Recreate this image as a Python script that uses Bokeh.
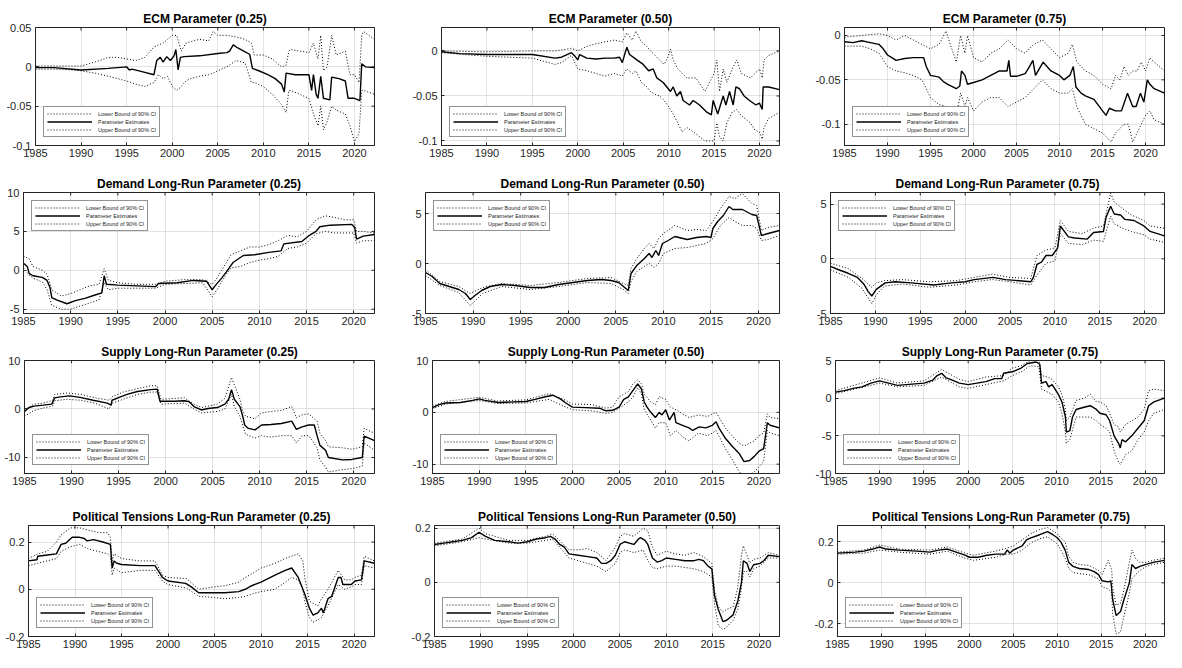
import sys
from bokeh.plotting import figure
from bokeh.models import (ColumnDataSource, Range1d, FixedTicker,
                          Legend, LegendItem, PrintfTickFormatter)
from bokeh.layouts import column, row
from bokeh.core.properties import value
from bokeh.embed import file_html
from bokeh.resources import INLINE

# ---------------------------------------------------------------- data
x_ticks = [1985, 1990, 1995, 2000, 2005, 2010, 2015, 2020]
legend_labels = ["Lower Bound of 90% CI", "Parameter Estimates", "Upper Bound of 90% CI"]

# ECM (0.25)
ecm25_est_year = [1985, 1987, 1990, 1993, 1995, 1995.3, 1995.6, 1997, 1998, 1998.3, 1998.7, 1999.0, 1999.4, 1999.8, 2000.2, 2000.4, 2000.65, 2000.9, 2001.3, 2003, 2005, 2006, 2006.3, 2006.7, 2007.2, 2008, 2008.5, 2008.8, 2009.5, 2010.5, 2011.3, 2012.0, 2012.3, 2012.5, 2013.5, 2015.0, 2015.3, 2015.5, 2015.8, 2016.0, 2016.3, 2016.6, 2017.3, 2017.5, 2018.3, 2019.0, 2019.3, 2020.0, 2020.6, 2020.8, 2021.2, 2022.2]
ecm25_est = [-0.001, -0.001, -0.004, -0.002, 0.000, -0.004, -0.003, -0.007, -0.010, 0.008, 0.012, 0.006, 0.013, 0.008, 0.014, 0.022, -0.004, 0.012, 0.013, 0.014, 0.017, 0.018, 0.020, 0.028, 0.024, 0.019, 0.016, -0.002, -0.005, -0.010, -0.015, -0.022, -0.032, -0.008, -0.010, -0.010, -0.030, -0.010, -0.035, -0.040, -0.012, -0.040, -0.042, -0.013, -0.015, -0.018, -0.040, -0.040, -0.043, 0.004, 0.000, -0.001]
ecm25_ci_year = [1985, 1988, 1990, 1991.5, 1993, 1994, 1995, 1996, 1997, 1998, 1998.5, 1999, 1999.5, 2000, 2000.5, 2001, 2001.5, 2002, 2003, 2004, 2004.5, 2005, 2006, 2007, 2008, 2008.7, 2009, 2010, 2011, 2012, 2012.5, 2012.8, 2013, 2014, 2015, 2015.5, 2016, 2016.3, 2016.6, 2017, 2017.5, 2018, 2019, 2019.5, 2020, 2020.5, 2020.8, 2021, 2022.2]
ecm25_hi = [0.001, 0.001, 0.001, 0.006, 0.012, 0.012, 0.010, 0.008, 0.012, 0.025, 0.028, 0.030, 0.035, 0.040, 0.040, 0.020, 0.030, 0.032, 0.035, 0.033, 0.045, 0.040, 0.040, 0.038, 0.035, 0.030, 0.015, 0.015, 0.010, 0.000, 0.002, 0.020, 0.022, 0.020, 0.018, 0.030, 0.010, 0.040, -0.005, 0.000, 0.040, 0.015, 0.020, -0.010, -0.010, -0.020, 0.040, 0.045, 0.035]
ecm25_lo = [-0.003, -0.003, -0.005, -0.008, -0.012, -0.015, -0.018, -0.022, -0.025, -0.020, -0.010, -0.015, -0.012, -0.025, -0.030, -0.025, -0.018, -0.015, -0.012, -0.010, -0.008, -0.005, 0.000, 0.008, 0.005, -0.020, -0.020, -0.025, -0.035, -0.048, -0.058, -0.030, -0.030, -0.035, -0.040, -0.060, -0.075, -0.050, -0.080, -0.070, -0.050, -0.055, -0.060, -0.075, -0.095, -0.085, -0.030, -0.030, -0.035]

# ECM (0.50)
ecm50_est_year = [1985, 1987, 1990, 1995, 1997.5, 1998.2, 1999.3, 1999.7, 2000.0, 2000.2, 2001, 2002, 2003, 2004, 2004.6, 2004.9, 2005.1, 2005.4, 2005.7, 2006.5, 2007.2, 2007.8, 2008.3, 2008.7, 2009.4, 2010.2, 2010.5, 2010.9, 2011.3, 2011.6, 2012.3, 2012.7, 2013.4, 2014.2, 2014.7, 2014.9, 2015.4, 2016.0, 2016.3, 2016.7, 2017.1, 2017.4, 2017.8, 2018.3, 2018.9, 2019.6, 2020.0, 2020.3, 2020.4, 2021.0, 2022.2]
ecm50_est = [-0.001, -0.003, -0.004, -0.004, -0.008, -0.007, -0.002, -0.006, -0.010, -0.004, -0.008, -0.009, -0.008, -0.008, -0.007, -0.013, -0.006, 0.004, -0.004, -0.010, -0.015, -0.022, -0.020, -0.030, -0.035, -0.045, -0.040, -0.050, -0.045, -0.055, -0.060, -0.055, -0.060, -0.068, -0.071, -0.055, -0.070, -0.050, -0.060, -0.045, -0.060, -0.040, -0.042, -0.050, -0.055, -0.060, -0.058, -0.065, -0.040, -0.040, -0.043]
ecm50_ci_year = [1985, 1990, 1995, 1997.5, 1998.2, 1999.3, 2000, 2001, 2002, 2003, 2004, 2004.9, 2005.4, 2006, 2006.4, 2007, 2007.6, 2008, 2008.5, 2009, 2009.5, 2010.0, 2010.2, 2010.5, 2011, 2011.5, 2012, 2013, 2014, 2014.5, 2015, 2015.3, 2015.6, 2016, 2016.4, 2017, 2017.5, 2018, 2019, 2019.5, 2020, 2020.3, 2020.5, 2021, 2022.2]
ecm50_hi = [0.000, -0.001, 0.000, 0.000, 0.001, 0.003, 0.000, 0.005, 0.008, 0.010, 0.012, 0.010, 0.020, 0.012, 0.022, 0.010, 0.005, 0.000, -0.005, -0.010, -0.015, -0.005, 0.002, -0.010, -0.020, -0.025, -0.030, -0.030, -0.045, -0.035, -0.025, -0.010, -0.045, -0.020, -0.035, -0.020, -0.010, -0.025, -0.030, -0.025, -0.020, -0.030, -0.010, -0.005, 0.000]
ecm50_lo = [-0.002, -0.006, -0.008, -0.015, -0.013, -0.005, -0.020, -0.022, -0.025, -0.028, -0.025, -0.028, -0.020, -0.025, -0.022, -0.035, -0.040, -0.045, -0.048, -0.050, -0.055, -0.062, -0.065, -0.070, -0.080, -0.090, -0.085, -0.092, -0.100, -0.100, -0.100, -0.080, -0.095, -0.100, -0.080, -0.068, -0.065, -0.072, -0.080, -0.088, -0.090, -0.098, -0.085, -0.075, -0.068]

# ECM (0.75)
ecm75_est_year = [1985, 1986, 1987, 1988, 1989, 1989.5, 1990, 1990.5, 1991, 1992, 1993, 1994.2, 1994.5, 1995, 1996, 1996.5, 1997, 1998, 1998.4, 1998.6, 1999, 1999.3, 2000, 2001, 2002, 2003, 2003.9, 2004.1, 2004.3, 2005, 2006, 2006.5, 2006.9, 2007.2, 2008.1, 2009, 2010, 2010.5, 2011.2, 2011.6, 2011.9, 2012.5, 2013, 2014, 2015, 2015.4, 2015.8, 2016.5, 2017.2, 2017.9, 2018.5, 2018.9, 2019.4, 2019.8, 2020.2, 2020.5, 2021, 2022.2]
ecm75_est = [-0.007, -0.008, -0.006, -0.008, -0.010, -0.015, -0.022, -0.025, -0.028, -0.026, -0.025, -0.025, -0.035, -0.045, -0.047, -0.052, -0.055, -0.060, -0.057, -0.040, -0.045, -0.055, -0.053, -0.050, -0.045, -0.040, -0.040, -0.028, -0.046, -0.046, -0.043, -0.035, -0.028, -0.045, -0.030, -0.040, -0.045, -0.050, -0.045, -0.035, -0.058, -0.065, -0.068, -0.072, -0.085, -0.090, -0.082, -0.085, -0.085, -0.065, -0.080, -0.080, -0.065, -0.075, -0.050, -0.055, -0.060, -0.065]
ecm75_ci_year = [1985, 1986, 1987, 1988, 1989, 1990, 1991, 1992, 1993, 1994, 1995, 1996, 1996.8, 1997.3, 1998, 1998.5, 1999, 1999.3, 2000, 2001, 2002, 2003, 2004, 2005, 2006, 2007, 2008, 2009, 2010, 2011, 2011.5, 2012, 2013, 2014, 2015, 2016, 2016.5, 2017, 2017.5, 2018, 2018.5, 2019, 2019.5, 2020, 2020.5, 2021, 2022.2]
ecm75_hi = [-0.002, -0.001, 0.000, 0.001, 0.002, 0.000, -0.005, 0.000, -0.005, -0.010, -0.015, -0.010, 0.005, -0.010, -0.030, 0.000, -0.020, 0.000, -0.025, -0.030, -0.020, -0.015, -0.005, -0.015, -0.020, -0.010, -0.005, -0.015, -0.025, -0.020, -0.010, -0.030, -0.040, -0.045, -0.055, -0.060, -0.045, -0.050, -0.035, -0.045, -0.040, -0.040, -0.030, -0.040, -0.025, -0.030, -0.040]
ecm75_lo = [-0.012, -0.012, -0.012, -0.015, -0.020, -0.035, -0.040, -0.042, -0.045, -0.050, -0.070, -0.078, -0.080, -0.085, -0.090, -0.065, -0.080, -0.070, -0.085, -0.075, -0.070, -0.070, -0.080, -0.075, -0.070, -0.060, -0.050, -0.060, -0.065, -0.065, -0.060, -0.080, -0.100, -0.105, -0.110, -0.120, -0.110, -0.105, -0.100, -0.100, -0.120, -0.110, -0.100, -0.090, -0.085, -0.095, -0.100]

# Demand long-run (0.25)
dem25_est_year = [1985, 1985.4, 1985.6, 1986, 1987, 1987.5, 1987.8, 1988.0, 1988.5, 1989.6, 1990.5, 1991.5, 1992.5, 1993.3, 1993.55, 1993.8, 1995, 1997, 1999, 1999.3, 2001.3, 2003, 2004.4, 2005.0, 2005.3, 2006.0, 2006.5, 2007.2, 2008.3, 2009.5, 2011, 2012.3, 2012.6, 2014.5, 2015.3, 2016.0, 2016.4, 2017.5, 2019.8, 2020.1, 2020.3, 2021, 2022.2]
dem25_est = [0.9, 0.5, -0.4, -0.7, -0.9, -1.3, -2.2, -3.5, -3.8, -4.3, -3.9, -3.6, -3.2, -2.9, -0.7, -1.8, -1.9, -2.0, -2.1, -1.7, -1.6, -1.3, -1.4, -2.5, -2.0, -1.0, -0.2, 1.0, 1.9, 2.0, 2.3, 2.5, 3.4, 3.7, 4.5, 5.0, 5.6, 5.8, 5.9, 5.5, 4.0, 4.4, 4.6]
dem25_ci_year = [1985, 1985.6, 1986, 1987, 1987.5, 1988, 1989, 1990, 1991, 1992, 1993, 1993.55, 1994, 1995, 1997, 1999, 2000, 2002, 2004, 2005, 2005.5, 2006, 2006.5, 2007, 2008, 2009, 2010, 2011, 2012, 2013, 2014, 2015, 2016, 2017, 2018, 2019, 2020, 2020.3, 2021, 2022.2]
dem25_hi = [1.8, 1.5, 0.5, 0.0, -0.5, -2.5, -3.3, -3.0, -2.5, -2.0, -1.8, 0.2, -1.3, -1.6, -1.8, -1.8, -1.4, -1.2, -1.2, -1.8, -1.0, 0.0, 1.0, 2.0, 2.5, 3.0, 3.0, 3.3, 3.8, 4.5, 4.3, 5.0, 6.5, 7.0, 6.8, 6.5, 6.5, 5.0, 5.0, 4.8]
dem25_lo = [0.3, -0.6, -1.0, -1.5, -2.5, -4.5, -5.0, -5.0, -4.6, -4.2, -3.8, -1.6, -2.5, -2.3, -2.3, -2.3, -1.8, -1.7, -1.6, -3.4, -2.5, -1.5, -0.5, 0.3, 0.5, 1.0, 1.3, 1.5, 1.8, 2.8, 3.0, 3.5, 4.7, 5.0, 4.8, 4.8, 4.8, 3.5, 3.8, 3.8]

# Demand long-run (0.50)
dem50_est_year = [1985.0, 1985.7, 1986.5, 1987.5, 1988.5, 1989.2, 1989.7, 1990.2, 1990.9, 1991.8, 1993.0, 1994.4, 1996.0, 1997.5, 1999.0, 2000.5, 2002.0, 2003.5, 2004.5, 2005.3, 2005.8, 2006.3, 2006.6, 2007.2, 2008.0, 2008.5, 2008.8, 2009.2, 2009.5, 2009.9, 2010.5, 2011.2, 2012.5, 2013.5, 2014.5, 2015.0, 2015.2, 2015.7, 2016.3, 2016.9, 2017.3, 2018.3, 2019.3, 2019.8, 2020.3, 2021.0, 2022.2]
dem50_est = [-0.9, -1.3, -2.0, -2.3, -2.6, -3.0, -3.6, -3.2, -2.7, -2.3, -2.1, -2.2, -2.4, -2.4, -2.1, -1.9, -1.7, -1.6, -1.7, -1.9, -2.3, -2.7, -1.0, -0.2, 0.5, 1.0, 0.6, 1.3, 0.8, 2.0, 2.3, 2.7, 2.4, 2.6, 2.7, 2.6, 3.5, 4.2, 4.8, 5.7, 5.4, 5.4, 4.9, 4.8, 2.8, 3.0, 3.3]
dem50_ci_year = [1985, 1986.5, 1988.5, 1989.7, 1991, 1993, 1996, 1999, 2002, 2004.5, 2005.8, 2006.3, 2006.6, 2007.2, 2008, 2008.5, 2009, 2009.5, 2010, 2011.2, 2012.5, 2013.5, 2014.5, 2015.2, 2016, 2016.9, 2017.5, 2018.3, 2019.3, 2019.8, 2020.3, 2021, 2022.2]
dem50_hi = [-0.6, -1.8, -2.3, -3.0, -2.4, -2.0, -2.2, -1.9, -1.5, -1.4, -2.0, -2.2, -0.5, 0.5, 1.5, 2.0, 1.5, 2.5, 3.0, 3.8, 3.3, 3.4, 3.3, 4.2, 5.5, 6.7, 6.5, 7.0, 6.0, 5.8, 3.3, 3.6, 3.8]
dem50_lo = [-1.2, -2.2, -2.9, -4.2, -3.0, -2.3, -2.6, -2.3, -1.9, -2.0, -2.6, -3.0, -1.8, -0.8, -0.3, 0.0, -0.4, 0.0, 1.0, 1.5, 1.6, 1.8, 2.0, 2.5, 3.8, 4.6, 4.2, 3.8, 3.8, 3.5, 2.3, 2.4, 2.8]

# Demand long-run (0.75)
dem75_est_year = [1985, 1985.9, 1986.9, 1988, 1988.7, 1989.2, 1989.6, 1990.1, 1991.1, 1992.2, 1994, 1996.5, 1998.5, 2000, 2001, 2003.1, 2004.5, 2006, 2007.3, 2007.6, 2008.0, 2008.5, 2009, 2009.7, 2010.3, 2010.6, 2011.5, 2012.2, 2013.6, 2014.3, 2015.4, 2015.7, 2016.2, 2016.6, 2017.3, 2017.8, 2018.8, 2019.9, 2020.6, 2022.2]
dem75_est = [-0.7, -1.0, -1.3, -1.7, -2.3, -3.0, -3.4, -2.8, -2.2, -2.1, -2.2, -2.4, -2.2, -2.1, -1.9, -1.7, -1.9, -2.0, -2.1, -1.7, -0.5, -0.3, 0.3, 0.3, 1.0, 3.0, 2.0, 1.9, 1.8, 2.4, 2.5, 3.8, 4.8, 4.1, 4.0, 3.6, 3.5, 3.0, 2.5, 2.1]
dem75_ci_year = [1985, 1987, 1988.5, 1989.6, 1990.1, 1991, 1993, 1996, 1999, 2001, 2003, 2005, 2007.3, 2008, 2009, 2010, 2010.6, 2011.5, 2013, 2014.3, 2015.4, 2016.2, 2016.6, 2017.5, 2018.5, 2019.9, 2020.6, 2022.2]
dem75_hi = [-0.4, -0.9, -1.8, -2.6, -2.2, -2.0, -1.9, -2.1, -2.0, -1.7, -1.4, -1.7, -1.8, 0.3, 0.8, 1.0, 3.5, 2.5, 2.3, 2.8, 3.0, 6.0, 5.2, 4.6, 4.0, 3.5, 3.0, 2.8]
dem75_lo = [-1.0, -1.7, -2.7, -4.1, -3.3, -2.5, -2.3, -2.6, -2.4, -2.1, -1.9, -2.1, -2.4, -1.5, -0.4, -0.2, 2.3, 1.4, 1.3, 1.7, 1.6, 3.9, 3.2, 2.8, 2.5, 2.2, 1.8, 1.5]

# Supply long-run (0.25)
sup25_est_year = [1985, 1985.5, 1986, 1987, 1987.9, 1988.2, 1988.8, 1989.8, 1990.9, 1992.3, 1993.8, 1994.2, 1994.3, 1995.2, 1995.9, 1997, 1998.4, 1999.1, 1999.4, 2001, 2002, 2002.5, 2003, 2003.8, 2004.5, 2005.5, 2006.3, 2006.7, 2007.0, 2007.3, 2007.9, 2008.2, 2008.4, 2008.8, 2009.5, 2010.2, 2011.2, 2012.3, 2013.4, 2013.9, 2014.5, 2015.2, 2015.8, 2016.1, 2016.4, 2017, 2017.3, 2018.8, 2019.8, 2020.9, 2021.1, 2022.2]
sup25_est = [-0.5, 0.3, 0.6, 0.8, 1.0, 2.3, 2.5, 2.7, 2.4, 1.8, 1.2, 0.8, 1.8, 2.5, 3.0, 3.6, 4.0, 4.1, 1.6, 1.6, 1.7, 1.5, 0.5, -0.2, 0.1, 0.3, 1.0, 2.0, 4.0, 2.0, 0.5, -1.5, -3.3, -4.0, -4.3, -3.3, -3.2, -3.0, -2.5, -4.2, -3.7, -3.3, -3.3, -5.5, -7.5, -8.5, -10.0, -10.5, -10.4, -10.0, -5.6, -6.5]
sup25_ci_year = [1985, 1986, 1987, 1988, 1988.2, 1989.5, 1991, 1992.5, 1994, 1994.3, 1995.5, 1997, 1998.5, 1999.1, 1999.5, 2002, 2003, 2003.8, 2005.5, 2006.3, 2007, 2007.3, 2007.9, 2008.2, 2008.5, 2009.5, 2010.2, 2011.2, 2012.3, 2013.4, 2013.9, 2014.5, 2015.2, 2016.1, 2016.4, 2017, 2017.3, 2018.8, 2019.8, 2020.9, 2021.1, 2022.2]
sup25_hi = [-0.2, 1.0, 1.2, 1.8, 3.0, 3.3, 3.0, 2.3, 1.8, 2.5, 3.5, 4.2, 4.8, 4.8, 2.0, 2.3, 1.0, 0.3, 1.0, 2.2, 6.5, 5.0, 2.0, -0.5, -1.5, -2.0, -0.8, -0.5, -0.3, 0.5, -1.8, -1.2, -1.0, -2.5, -5.0, -6.5, -7.8, -8.0, -8.3, -7.8, -4.0, -5.0]
sup25_lo = [-1.5, -0.3, 0.2, 0.6, 1.7, 2.0, 1.8, 1.2, 0.0, 1.2, 2.0, 3.0, 3.5, 3.5, 1.0, 1.2, 0.0, -0.8, -0.5, 0.0, 3.0, 0.5, -1.5, -3.5, -5.2, -6.0, -5.5, -5.8, -5.5, -5.5, -7.0, -5.5, -5.5, -8.0, -10.5, -12.0, -13.0, -12.5, -12.3, -11.8, -7.0, -8.5]

# Supply long-run (0.50)
sup50_est_year = [1985, 1985.7, 1986.4, 1988, 1989.3, 1990, 1990.6, 1992.1, 1995, 1996, 1997.1, 1997.9, 1998.7, 1999.3, 2000, 2001.4, 2002.9, 2003.6, 2004.3, 2005, 2005.5, 2006, 2006.4, 2007.0, 2007.4, 2007.7, 2008, 2008.4, 2008.9, 2009.3, 2009.6, 2010, 2010.4, 2010.9, 2011.1, 2011.8, 2012.5, 2012.9, 2013.6, 2014.3, 2015, 2015.4, 2015.7, 2016.4, 2017.1, 2017.9, 2018.4, 2019, 2019.5, 2020, 2020.5, 2020.9, 2021.2, 2022.2]
sup50_est = [0.9, 1.5, 1.8, 1.9, 2.3, 2.6, 2.3, 1.9, 2.1, 2.5, 3.0, 3.3, 2.6, 1.8, 1.0, 0.9, 0.8, 0.3, 0.4, 1.0, 2.5, 3.0, 4.0, 5.5, 4.5, 2.0, 1.0, 0.0, -1.0, 0.0, -0.5, 0.5, -1.5, 0.0, -2.0, -2.5, -3.0, -3.5, -2.8, -3.0, -2.5, -1.8, -3.0, -5.0, -6.5, -8.0, -9.5, -9.3, -8.5, -7.5, -7.0, -2.0, -2.5, -3.0]
sup50_ci_year = [1985, 1986.4, 1990, 1992, 1995, 1997.5, 1999.3, 2000, 2002, 2003.6, 2004.3, 2005, 2006, 2006.5, 2007, 2007.4, 2007.7, 2008.4, 2008.9, 2009.3, 2010, 2010.5, 2011.1, 2012, 2012.5, 2013.5, 2014.5, 2015, 2015.4, 2016.4, 2017.1, 2017.9, 2018.4, 2019.5, 2020, 2020.5, 2020.9, 2021.2, 2022.2]
sup50_hi = [1.2, 2.1, 2.9, 2.2, 2.4, 3.6, 2.3, 1.6, 1.5, 0.8, 1.0, 3.0, 4.0, 5.5, 6.3, 5.5, 3.5, 2.0, 1.5, 3.0, 2.5, 1.0, 0.5, -0.5, -1.0, -0.5, -0.8, -0.3, 0.0, -3.0, -4.5, -6.0, -6.5, -5.5, -4.5, -4.0, -0.3, -1.0, -1.2]
sup50_lo = [0.7, 1.6, 2.3, 1.7, 1.8, 2.5, 1.0, 0.5, 0.3, -0.2, 0.0, 0.8, 2.0, 3.0, 4.8, 3.5, 0.5, -1.5, -3.0, -2.0, -2.0, -4.5, -3.5, -5.0, -5.5, -4.0, -4.5, -4.0, -3.5, -7.0, -9.0, -11.5, -12.5, -11.5, -10.5, -9.5, -3.5, -4.0, -4.5]

# Supply long-run (0.75)
sup75_est_year = [1985, 1986, 1987, 1988, 1989, 1990, 1991, 1992, 1994, 1995, 1996, 1996.5, 1997, 1997.5, 1998, 1999, 2000, 2001, 2002, 2003, 2003.8, 2004, 2005, 2006, 2006.7, 2007.7, 2008.1, 2008.3, 2008.8, 2009.1, 2009.5, 2010.2, 2010.6, 2011, 2011.1, 2011.5, 2011.8, 2012.2, 2013.1, 2013.8, 2014.5, 2014.9, 2015.6, 2016, 2016.5, 2017, 2017.2, 2017.4, 2017.8, 2018.5, 2019.2, 2019.9, 2020.4, 2021, 2022.2]
sup75_est = [0.8, 1.0, 1.3, 1.5, 2.0, 2.3, 2.0, 1.7, 1.9, 2.0, 2.4, 3.0, 3.3, 2.7, 2.5, 2.0, 1.8, 2.0, 2.2, 2.6, 2.6, 3.3, 3.5, 4.0, 4.6, 4.8, 4.5, 2.0, 2.2, 1.5, 1.8, 0.5, -0.5, -2.5, -4.5, -4.3, -2.5, -1.5, -1.2, -1.0, -1.5, -2.0, -2.2, -3.0, -5.0, -6.0, -6.6, -5.5, -5.8, -5.0, -4.0, -3.0, -1.0, -0.5, 0.0]
sup75_ci_year = [1985, 1990, 1992, 1995, 1997, 1999, 2000, 2002, 2004, 2005, 2006, 2007, 2008, 2008.3, 2009, 2009.5, 2010.2, 2010.6, 2011, 2011.1, 2011.5, 2012.2, 2013.1, 2013.8, 2014.5, 2014.9, 2015.6, 2016, 2016.5, 2017, 2017.2, 2017.8, 2018.5, 2019.2, 2019.9, 2020.4, 2021, 2022.2]
sup75_hi = [1.0, 2.7, 2.0, 2.3, 3.8, 2.5, 2.2, 2.8, 3.0, 4.0, 4.3, 5.0, 5.0, 3.0, 2.8, 2.5, 1.5, 0.5, -1.5, -3.0, -2.5, -0.3, 0.0, 0.5, -0.5, -0.5, -1.0, -2.0, -3.5, -3.8, -4.5, -3.5, -3.0, -2.5, -1.5, 1.0, 1.2, 1.0]
sup75_lo = [0.6, 2.0, 1.5, 1.7, 2.8, 1.5, 1.3, 1.8, 2.3, 3.0, 3.5, 4.3, 4.2, 1.2, 0.8, 0.5, -0.5, -2.0, -4.5, -6.0, -5.5, -2.5, -2.5, -2.5, -3.0, -3.5, -4.0, -4.5, -7.0, -8.5, -8.8, -7.5, -7.0, -5.5, -4.5, -3.0, -2.0, -1.5]

# Political tensions long-run (0.25)
pol25_est_year = [1985, 1985.9, 1986, 1987, 1988, 1988.5, 1989, 1989.7, 1990.5, 1991, 1991.3, 1992, 1993, 1993.8, 1994.0, 1994.2, 1994.5, 1995, 1997, 1998.6, 1999.4, 2000, 2001.9, 2002.5, 2003.3, 2006.1, 2007.6, 2008.3, 2009, 2010, 2011.5, 2012.6, 2013.3, 2014, 2014.7, 2015.2, 2015.6, 2016.1, 2016.5, 2016.7, 2017.2, 2017.6, 2018.3, 2018.6, 2018.8, 2019.7, 2020.1, 2020.8, 2021.1, 2022.2]
pol25_est = [0.12, 0.125, 0.14, 0.145, 0.15, 0.19, 0.195, 0.22, 0.22, 0.215, 0.205, 0.21, 0.20, 0.19, 0.09, 0.12, 0.11, 0.105, 0.10, 0.10, 0.05, 0.035, 0.025, 0.01, -0.015, -0.015, -0.01, 0.0, 0.015, 0.03, 0.06, 0.08, 0.09, 0.05, -0.02, -0.08, -0.11, -0.10, -0.08, -0.10, -0.04, -0.03, 0.05, 0.05, 0.02, 0.02, 0.035, 0.04, 0.12, 0.11]
pol25_ci_year = [1985, 1986, 1987, 1988, 1988.5, 1989.5, 1990.5, 1991.5, 1992.5, 1993.5, 1993.8, 1994, 1994.2, 1995, 1997, 1998.6, 1999.4, 2000, 2002, 2003.3, 2005, 2006.1, 2007.6, 2008.3, 2009, 2010, 2011.5, 2012.6, 2013.3, 2014, 2014.5, 2014.7, 2015.2, 2015.6, 2016.1, 2016.5, 2017.2, 2018.3, 2019, 2019.7, 2020.1, 2020.8, 2021.1, 2022.2]
pol25_hi = [0.13, 0.15, 0.16, 0.20, 0.23, 0.26, 0.26, 0.25, 0.24, 0.24, 0.22, 0.12, 0.15, 0.13, 0.12, 0.12, 0.06, 0.05, 0.045, 0.0, 0.01, 0.015, 0.03, 0.05, 0.065, 0.09, 0.11, 0.13, 0.14, 0.15, 0.12, 0.05, -0.05, -0.06, -0.07, -0.04, 0.0, 0.08, 0.04, 0.04, 0.05, 0.06, 0.14, 0.12]
pol25_lo = [0.10, 0.11, 0.12, 0.13, 0.16, 0.18, 0.19, 0.17, 0.16, 0.15, 0.14, 0.06, 0.09, 0.07, 0.08, 0.08, 0.035, 0.02, 0.005, -0.03, -0.035, -0.04, -0.035, -0.03, -0.02, -0.01, 0.0, 0.03, 0.05, 0.04, 0.0, -0.05, -0.12, -0.14, -0.13, -0.12, -0.07, 0.02, 0.0, 0.01, 0.02, 0.02, 0.10, 0.09]

# Political tensions long-run (0.50)
pol50_est_year = [1985, 1986, 1987, 1988, 1989, 1989.8, 1990.5, 1991.5, 1993, 1994, 1995, 1996, 1997, 1997.5, 1998, 1998.5, 1999, 1999.5, 2000.5, 2001.5, 2002.5, 2003, 2003.5, 2004, 2004.5, 2005, 2005.5, 2006, 2006.5, 2007, 2007.2, 2007.7, 2008, 2008.5, 2009, 2009.5, 2010, 2011, 2012, 2013, 2013.5, 2014, 2014.5, 2014.9, 2015.2, 2015.6, 2016.1, 2016.5, 2017.2, 2017.7, 2018.1, 2018.3, 2018.7, 2019, 2019.4, 2020.1, 2020.5, 2021, 2022.2]
pol50_est = [0.14, 0.145, 0.15, 0.155, 0.165, 0.185, 0.17, 0.155, 0.15, 0.145, 0.15, 0.16, 0.165, 0.17, 0.16, 0.14, 0.13, 0.105, 0.10, 0.095, 0.09, 0.07, 0.07, 0.08, 0.10, 0.14, 0.15, 0.145, 0.14, 0.16, 0.165, 0.155, 0.14, 0.09, 0.075, 0.08, 0.09, 0.085, 0.08, 0.08, 0.085, 0.08, 0.06, 0.05, -0.05, -0.10, -0.145, -0.14, -0.12, -0.07, 0.0, 0.08, 0.07, 0.04, 0.065, 0.07, 0.08, 0.10, 0.095]
pol50_ci_year = [1985, 1988, 1989.8, 1990.5, 1993, 1995, 1997, 1997.7, 1998.5, 1999.5, 2000.5, 2001.5, 2002.5, 2003.5, 2004.5, 2005, 2005.5, 2006.5, 2007.5, 2008, 2008.5, 2009, 2010, 2011, 2012, 2013, 2014, 2014.9, 2015.2, 2015.6, 2016.1, 2016.5, 2017.2, 2017.7, 2018.1, 2018.3, 2018.7, 2019, 2019.4, 2020.1, 2021, 2022.2]
pol50_hi = [0.145, 0.16, 0.20, 0.18, 0.155, 0.155, 0.17, 0.18, 0.155, 0.12, 0.12, 0.125, 0.11, 0.08, 0.13, 0.17, 0.18, 0.17, 0.20, 0.19, 0.13, 0.10, 0.115, 0.105, 0.10, 0.11, 0.095, 0.07, -0.03, -0.09, -0.11, -0.10, -0.09, -0.02, 0.10, 0.135, 0.10, 0.07, 0.085, 0.09, 0.11, 0.10]
pol50_lo = [0.135, 0.15, 0.165, 0.16, 0.145, 0.145, 0.155, 0.16, 0.13, 0.09, 0.08, 0.07, 0.06, 0.04, 0.07, 0.11, 0.12, 0.11, 0.12, 0.08, 0.055, 0.05, 0.06, 0.06, 0.055, 0.05, 0.04, 0.02, -0.08, -0.16, -0.175, -0.165, -0.14, -0.10, -0.02, 0.04, 0.04, 0.02, 0.05, 0.06, 0.09, 0.09]

# Political tensions long-run (0.75)
pol75_est_year = [1985, 1987, 1988, 1989, 1989.8, 1990.5, 1992, 1994, 1995.5, 1996.5, 1997.5, 1998.5, 1999.5, 2000, 2001, 2002, 2003, 2004, 2004.3, 2004.6, 2005, 2006, 2006.5, 2007, 2008, 2008.9, 2009.5, 2010, 2010.4, 2010.9, 2011.3, 2011.8, 2012.5, 2013.6, 2014.2, 2014.7, 2015.1, 2015.8, 2016.1, 2016.3, 2016.7, 2017.2, 2017.6, 2018.2, 2018.5, 2018.9, 2019.4, 2020.1, 2020.9, 2022.2]
pol75_est = [0.145, 0.15, 0.155, 0.165, 0.175, 0.165, 0.16, 0.155, 0.15, 0.16, 0.165, 0.15, 0.135, 0.125, 0.125, 0.135, 0.14, 0.14, 0.16, 0.145, 0.16, 0.18, 0.21, 0.22, 0.235, 0.25, 0.235, 0.22, 0.20, 0.16, 0.10, 0.08, 0.07, 0.065, 0.055, 0.04, 0.01, 0.005, 0.01, -0.08, -0.16, -0.14, -0.08, 0.0, 0.09, 0.07, 0.08, 0.09, 0.10, 0.11]
pol75_ci_year = [1985, 1988, 1989.8, 1992, 1995.5, 1997.5, 1999.5, 2000.5, 2003, 2004.3, 2005, 2006, 2007, 2008, 2008.9, 2010, 2010.4, 2010.9, 2011.3, 2011.8, 2012.5, 2013.6, 2014.7, 2015.1, 2015.8, 2016.2, 2016.3, 2016.7, 2017.2, 2017.6, 2018.2, 2018.5, 2018.9, 2019.4, 2020.1, 2020.9, 2022.2]
pol75_hi = [0.15, 0.16, 0.185, 0.165, 0.16, 0.175, 0.145, 0.135, 0.155, 0.17, 0.18, 0.21, 0.24, 0.26, 0.27, 0.24, 0.22, 0.20, 0.13, 0.10, 0.09, 0.085, 0.06, 0.04, 0.11, 0.06, -0.02, -0.11, -0.10, -0.03, 0.10, 0.16, 0.12, 0.10, 0.10, 0.11, 0.12]
pol75_lo = [0.14, 0.145, 0.16, 0.15, 0.14, 0.155, 0.12, 0.11, 0.125, 0.14, 0.14, 0.16, 0.195, 0.215, 0.225, 0.19, 0.16, 0.12, 0.07, 0.05, 0.045, 0.04, 0.02, -0.02, -0.03, -0.05, -0.15, -0.25, -0.24, -0.16, -0.05, 0.02, 0.04, 0.06, 0.08, 0.09, 0.10]

# y ticks and labels
ecm25_yticks = [-0.1, -0.05, 0, 0.05]
ecm25_ylabels = ["-0.1", "-0.05", "0", "0.05"]
ecm_yticks = [-0.1, -0.05, 0]
ecm_ylabels = ["-0.1", "-0.05", "0"]
dem25_yticks = [-5, 0, 5, 10]
dem25_ylabels = ["-5", "0", "5", "10"]
dem_yticks = [-5, 0, 5]
dem_ylabels = ["-5", "0", "5"]
sup_yticks = [-10, 0, 10]
sup_ylabels = ["-10", "0", "10"]
sup75_yticks = [-10, -5, 0, 5]
sup75_ylabels = ["-10", "-5", "0", "5"]
pol_yticks = [-0.2, 0, 0.2]
pol_ylabels = ["-0.2", "0", "0.2"]

# ---------------------------------------------------------------- styling / layout
FONT = "Liberation Sans"
INK = "#262626"
X_START, X_END = 1985, 2022.2
TICK_PX = 3

# figure top, figure height, frame top, frame bottom (page px)
ROW_GEOM = [(8, 165, 35, 153), (173, 167, 200, 321), (340, 167, 368, 487), (507, 153, 533, 644)]
# figure left, figure width, frame right (page px)
COL_GEOM = [(8, 379, 382), (387, 405, 787), (792, 382, 1172)]
FRAME_LEFT = [[43, 449, 852], [31, 433, 838], [32, 440, 843], [36, 442, 845]]

panels = [
    [dict(t="ECM Parameter (0.25)", ey=ecm25_est_year, e=ecm25_est, cy=ecm25_ci_year, lo=ecm25_lo, hi=ecm25_hi, yr=(-0.1, 0.05), yt=ecm25_yticks, yl=ecm25_ylabels, leg="bottom_left"),
     dict(t="ECM Parameter (0.50)", ey=ecm50_est_year, e=ecm50_est, cy=ecm50_ci_year, lo=ecm50_lo, hi=ecm50_hi, yr=(-0.105, 0.026), yt=ecm_yticks, yl=ecm_ylabels, leg="bottom_left"),
     dict(t="ECM Parameter (0.75)", ey=ecm75_est_year, e=ecm75_est, cy=ecm75_ci_year, lo=ecm75_lo, hi=ecm75_hi, yr=(-0.124, 0.009), yt=ecm_yticks, yl=ecm_ylabels, leg="bottom_left")],
    [dict(t="Demand Long-Run Parameter (0.25)", ey=dem25_est_year, e=dem25_est, cy=dem25_ci_year, lo=dem25_lo, hi=dem25_hi, yr=(-5.55, 10), yt=dem25_yticks, yl=dem25_ylabels, leg="top_left"),
     dict(t="Demand Long-Run Parameter (0.50)", ey=dem50_est_year, e=dem50_est, cy=dem50_ci_year, lo=dem50_lo, hi=dem50_hi, yr=(-5, 7.1), yt=dem_yticks, yl=dem_ylabels, leg="top_left"),
     dict(t="Demand Long-Run Parameter (0.75)", ey=dem75_est_year, e=dem75_est, cy=dem75_ci_year, lo=dem75_lo, hi=dem75_hi, yr=(-5, 6.06), yt=dem_yticks, yl=dem_ylabels, leg="top_left")],
    [dict(t="Supply Long-Run Parameter (0.25)", ey=sup25_est_year, e=sup25_est, cy=sup25_ci_year, lo=sup25_lo, hi=sup25_hi, yr=(-13.3, 10), yt=sup_yticks, yl=sup_ylabels, leg="bottom_left"),
     dict(t="Supply Long-Run Parameter (0.50)", ey=sup50_est_year, e=sup50_est, cy=sup50_ci_year, lo=sup50_lo, hi=sup50_hi, yr=(-11.8, 10), yt=sup_yticks, yl=sup_ylabels, leg="bottom_left", fb=481),
     dict(t="Supply Long-Run Parameter (0.75)", ey=sup75_est_year, e=sup75_est, cy=sup75_ci_year, lo=sup75_lo, hi=sup75_hi, yr=(-10, 5), yt=sup75_yticks, yl=sup75_ylabels, leg="bottom_left")],
    [dict(t="Political Tensions Long-Run Parameter (0.25)", ey=pol25_est_year, e=pol25_est, cy=pol25_ci_year, lo=pol25_lo, hi=pol25_hi, yr=(-0.2, 0.27), yt=pol_yticks, yl=pol_ylabels, leg="bottom_left"),
     dict(t="Political Tensions Long-Run Parameter (0.50)", ey=pol50_est_year, e=pol50_est, cy=pol50_ci_year, lo=pol50_lo, hi=pol50_hi, yr=(-0.2, 0.21), yt=pol_yticks, yl=pol_ylabels, leg="bottom_left"),
     dict(t="Political Tensions Long-Run Parameter (0.75)", ey=pol75_est_year, e=pol75_est, cy=pol75_ci_year, lo=pol75_lo, hi=pol75_hi, yr=(-0.262, 0.28), yt=pol_yticks, yl=pol_ylabels, leg="bottom_left")],
]


def trim(name, xs, *ys):
    n = min([len(xs)] + [len(y) for y in ys])
    if any(len(y) != len(xs) for y in ys):
        print("length mismatch in", name, len(xs), [len(y) for y in ys], file=sys.stderr)
    return [list(xs[:n])] + [list(y[:n]) for y in ys]


def style_axis(ax):
    ax.axis_line_color = INK
    ax.major_tick_line_color = INK
    ax.major_tick_in = TICK_PX
    ax.major_tick_out = 0
    ax.minor_tick_line_color = None
    ax.major_label_text_font = FONT
    ax.major_label_text_font_size = "11px"
    ax.major_label_text_color = INK


def build(spec, r, c):
    ftop, fh, T, B = ROW_GEOM[r]
    B = spec.get("fb", B)
    fleft, fw, R = COL_GEOM[c]
    L = FRAME_LEFT[r][c]
    y0, y1 = spec["yr"]
    p = figure(width=fw, height=fh,
               x_range=Range1d(X_START, X_END), y_range=Range1d(y0, y1),
               min_border_left=L - fleft, min_border_right=fleft + fw - R,
               min_border_top=T - ftop, min_border_bottom=ftop + fh - B,
               output_backend="svg", toolbar_location=None, tools="",
               title=spec["t"])
    p.background_fill_color = "white"
    p.border_fill_color = "white"
    p.outline_line_color = INK
    p.outline_line_width = 1
    p.title.text_font = FONT
    p.title.text_font_size = "12px"
    p.title.text_font_style = "bold"
    p.title.text_color = "black"
    p.title.align = "center"
    p.title.standoff = 3

    xt = FixedTicker(ticks=x_ticks)
    yt = FixedTicker(ticks=spec["yt"])
    xa = p.below[0]
    ya = p.left[0]
    style_axis(xa)
    style_axis(ya)
    xa.ticker = xt
    xa.major_label_standoff = 3
    ya.ticker = yt
    ya.major_label_standoff = 4
    ya.formatter = PrintfTickFormatter(format="%g")
    ya.major_label_overrides = {float(k): v for k, v in zip(spec["yt"], spec["yl"])}

    for g in p.xgrid:
        g.ticker = xt
    for g in p.ygrid:
        g.ticker = yt
    p.grid.grid_line_color = INK
    p.grid.grid_line_alpha = 0.13
    p.grid.grid_line_width = 1

    # inward tick marks on the top and right edges of the box (no labels there)
    frame_h = B - T
    frame_w = R - L
    dy = TICK_PX * (y1 - y0) / frame_h
    dx = TICK_PX * (X_END - X_START) / frame_w
    top_ticks = ColumnDataSource(dict(x=x_ticks, y0=[y1] * len(x_ticks), y1=[y1 - dy] * len(x_ticks)))
    p.segment(x0="x", y0="y0", x1="x", y1="y1", source=top_ticks, line_color=INK, line_width=1)
    yv = [t for t in spec["yt"] if y0 <= t <= y1]
    right_ticks = ColumnDataSource(dict(y=yv, x0=[X_END] * len(yv), x1=[X_END - dx] * len(yv)))
    p.segment(x0="x0", y0="y", x1="x1", y1="y", source=right_ticks, line_color=INK, line_width=1)

    cx, lo, hi = trim(spec["t"] + " CI", spec["cy"], spec["lo"], spec["hi"])
    ex, ev = trim(spec["t"] + " est", spec["ey"], spec["e"])
    ci_src = ColumnDataSource(dict(x=cx, lo=lo, hi=hi))
    est_src = ColumnDataSource(dict(x=ex, y=ev))
    r_lo = p.line("x", "lo", source=ci_src, line_color="black", line_width=1, line_dash="1 2")
    r_hi = p.line("x", "hi", source=ci_src, line_color="black", line_width=1, line_dash="1 2")
    r_est = p.line("x", "y", source=est_src, line_color="black", line_width=1.4)

    legend = Legend(items=[LegendItem(label=value(legend_labels[0]), renderers=[r_lo]),
                           LegendItem(label=value(legend_labels[1]), renderers=[r_est]),
                           LegendItem(label=value(legend_labels[2]), renderers=[r_hi])],
                    location=spec["leg"], margin=8, padding=3, spacing=1,
                    glyph_width=45, glyph_height=7, label_height=7, label_standoff=6,
                    label_text_font=FONT, label_text_font_size="5.5px", label_text_color=INK,
                    border_line_color=INK, border_line_width=1,
                    background_fill_color="white", background_fill_alpha=1)
    p.add_layout(legend)
    return p


rows = []
for r, prow in enumerate(panels):
    rows.append(row(*[build(spec, r, c) for c, spec in enumerate(prow)]))
layout = column(*rows)

open("out.html", "w").write(file_html(layout, INLINE))
